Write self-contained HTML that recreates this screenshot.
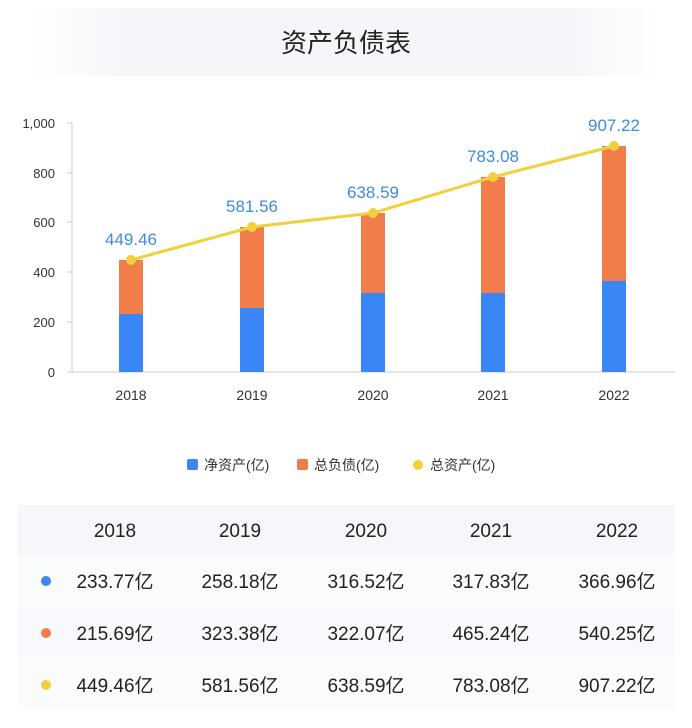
<!DOCTYPE html>
<html><head><meta charset="utf-8"><style>
body{margin:0;background:#fff;width:692px;height:723px;overflow:hidden;font-family:"Liberation Sans","Noto Sans CJK SC",sans-serif;}
</style></head><body>
<svg width="692" height="723" xmlns="http://www.w3.org/2000/svg" font-family="Liberation Sans, Noto Sans CJK SC, sans-serif">
<defs><linearGradient id="hg" x1="0" x2="1"><stop offset="0" stop-color="#fff"/><stop offset="0.15" stop-color="#f5f6fa"/><stop offset="0.85" stop-color="#f5f6fa"/><stop offset="1" stop-color="#fff"/></linearGradient></defs>
<rect x="30" y="8" width="632" height="68" fill="url(#hg)"/>
<text x="346" y="52" font-size="26" text-anchor="middle" fill="#222">资产负债表</text>
<!-- axes -->
<g font-size="13" fill="#333" text-anchor="end">
<text x="55" y="128">1,000</text><text x="55" y="178">800</text><text x="55" y="227">600</text><text x="55" y="277">400</text><text x="55" y="327">200</text><text x="55" y="377">0</text>
</g>
<g stroke="#ccc" stroke-width="1">
<line x1="72" y1="123" x2="72" y2="372"/>
<line x1="67" y1="123" x2="72" y2="123"/><line x1="67" y1="173" x2="72" y2="173"/><line x1="67" y1="222" x2="72" y2="222"/><line x1="67" y1="272" x2="72" y2="272"/><line x1="67" y1="322" x2="72" y2="322"/>
<line x1="67" y1="372" x2="675" y2="372"/>
</g>
<g>
<rect x="119" y="260" width="24" height="54" fill="#f07d4a"/><rect x="119" y="314" width="24" height="58" fill="#3a86f7"/>
<rect x="240" y="227" width="24" height="81" fill="#f07d4a"/><rect x="240" y="308" width="24" height="64" fill="#3a86f7"/>
<rect x="361" y="213" width="24" height="80" fill="#f07d4a"/><rect x="361" y="293" width="24" height="79" fill="#3a86f7"/>
<rect x="481" y="177" width="24" height="116" fill="#f07d4a"/><rect x="481" y="293" width="24" height="79" fill="#3a86f7"/>
<rect x="602" y="146" width="24" height="135" fill="#f07d4a"/><rect x="602" y="281" width="24" height="91" fill="#3a86f7"/>
</g>
<polyline points="131,260 252,227 373,213 493,177 614,146" fill="none" stroke="#f2d03b" stroke-width="3"/>
<g fill="#f2d03b"><circle cx="131" cy="260" r="5"/><circle cx="252" cy="227" r="5"/><circle cx="373" cy="213" r="5"/><circle cx="493" cy="177" r="5"/><circle cx="614" cy="146" r="5"/></g>
<g font-size="17" fill="#3d8be0" text-anchor="middle">
<text x="131" y="245">449.46</text><text x="252" y="212">581.56</text><text x="373" y="198">638.59</text><text x="493" y="162">783.08</text><text x="614" y="131">907.22</text>
</g>
<g font-size="14" fill="#333" text-anchor="middle">
<text x="131" y="400">2018</text><text x="252" y="400">2019</text><text x="373" y="400">2020</text><text x="493" y="400">2021</text><text x="614" y="400">2022</text>
</g>
<!-- legend -->
<g font-size="14" fill="#333">
<rect x="187" y="459" width="11" height="11" rx="2" fill="#3a86f7"/><text x="204" y="470">净资产(亿)</text>
<rect x="297" y="459" width="11" height="11" rx="2" fill="#f07d4a"/><text x="314" y="470">总负债(亿)</text>
<circle cx="418" cy="465" r="5" fill="#f2d03b"/><text x="430" y="470">总资产(亿)</text>
</g>
<!-- table -->
<rect x="18" y="505" width="657" height="205" fill="#fafbfd"/>
<rect x="18" y="505" width="657" height="50" fill="#f6f7fa"/>
<rect x="18" y="608" width="657" height="50" fill="#f8f9fc"/>
<g font-size="19" fill="#222" text-anchor="middle">
<text x="115" y="537">2018</text><text x="240" y="537">2019</text><text x="366" y="537">2020</text><text x="491" y="537">2021</text><text x="617" y="537">2022</text>
</g>
<circle cx="46" cy="581" r="5" fill="#3a86f7"/><circle cx="46" cy="633" r="5" fill="#f07d4a"/><circle cx="46" cy="685" r="5" fill="#f2d03b"/>
<g font-size="19" fill="#222" text-anchor="middle">
<text x="115" y="588">233.77亿</text><text x="240" y="588">258.18亿</text><text x="366" y="588">316.52亿</text><text x="491" y="588">317.83亿</text><text x="617" y="588">366.96亿</text>
<text x="115" y="640">215.69亿</text><text x="240" y="640">323.38亿</text><text x="366" y="640">322.07亿</text><text x="491" y="640">465.24亿</text><text x="617" y="640">540.25亿</text>
<text x="115" y="692">449.46亿</text><text x="240" y="692">581.56亿</text><text x="366" y="692">638.59亿</text><text x="491" y="692">783.08亿</text><text x="617" y="692">907.22亿</text>
</g>
</svg>
</body></html>
